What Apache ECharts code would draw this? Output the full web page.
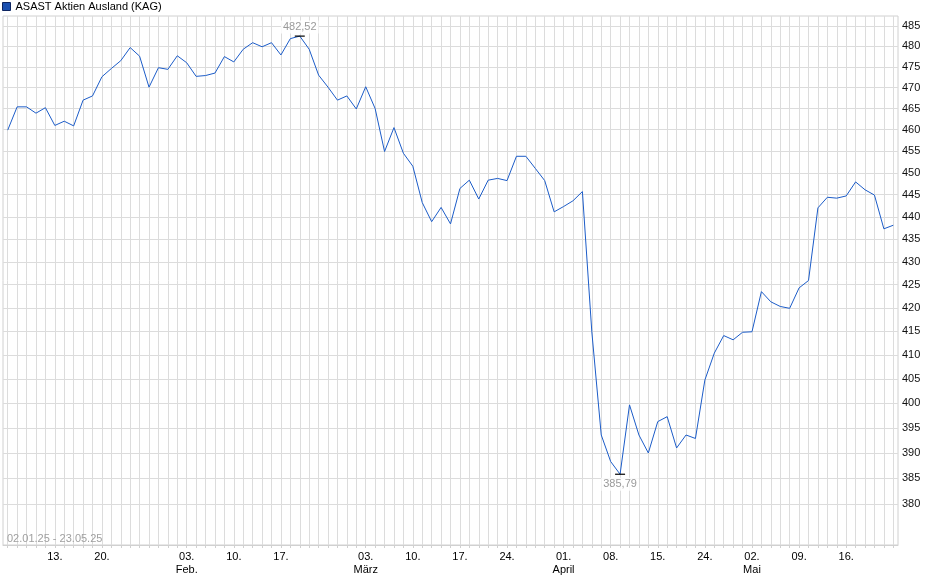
<!DOCTYPE html>
<html>
<head>
<meta charset="utf-8">
<title>ASAST Aktien Ausland (KAG)</title>
<script src="https://cdn.jsdelivr.net/npm/echarts@6.0.0/dist/echarts.min.js"></script>
<style>
	html, body { margin: 0; padding: 0; background: #fff; }
	#chart { width: 940px; height: 579px; }
</style>
</head>
<body>
<div id="chart"></div>
<script>
'use strict';

var seriesName = 'ASAST Aktien Ausland (KAG)';
var rangeText = '02.01.25 - 23.05.25';

// Handelstage (dd.mm.)
var dates = [
	'02.01.', '03.01.', '07.01.', '08.01.', '09.01.', '13.01.', '14.01.', '15.01.', '16.01.', '17.01.',
	'20.01.', '21.01.', '22.01.', '23.01.', '24.01.', '27.01.', '28.01.', '29.01.', '30.01.',
	'03.02.', '04.02.', '05.02.', '06.02.', '07.02.', '10.02.', '11.02.', '12.02.', '13.02.', '14.02.',
	'17.02.', '18.02.', '19.02.', '20.02.', '21.02.', '24.02.', '25.02.', '26.02.', '27.02.',
	'03.03.', '04.03.', '05.03.', '06.03.', '07.03.', '10.03.', '11.03.', '12.03.', '13.03.', '14.03.',
	'17.03.', '18.03.', '19.03.', '20.03.', '21.03.', '24.03.', '25.03.', '26.03.', '27.03.', '28.03.', '31.03.',
	'01.04.', '02.04.', '03.04.', '04.04.', '07.04.', '08.04.', '09.04.', '10.04.', '11.04.',
	'14.04.', '15.04.', '16.04.', '17.04.', '22.04.', '23.04.', '24.04.', '25.04.', '28.04.', '29.04.', '30.04.',
	'02.05.', '05.05.', '06.05.', '07.05.', '08.05.', '09.05.', '12.05.', '13.05.', '14.05.', '15.05.', '16.05.',
	'19.05.', '20.05.', '21.05.', '22.05.', '23.05.'
];

var values = [
	459.9, 465.4, 465.4, 463.9, 465.2, 461.0, 462.0, 460.9, 467.0, 468.0,
	472.6, 474.6, 476.5, 479.7, 477.6, 470.1, 474.8, 474.4, 477.7,
	476.0, 472.7, 472.9, 473.5, 477.5, 476.2, 479.3, 480.9, 479.9, 480.9,
	477.9, 481.9, 482.52, 479.3, 473.0, 470.1, 467.0, 468.0, 464.9,
	470.2, 465.0, 454.9, 460.5, 454.5, 451.5, 443.2, 438.9, 442.1, 438.4,
	446.4, 448.3, 444.0, 448.3, 448.7, 448.2, 453.8, 453.8, 451.0, 448.2, 441.1,
	442.3, 443.6, 445.7, 414.9, 393.6, 388.3, 385.79, 399.7, 393.6,
	390.0, 396.3, 397.3, 391.0, 393.6, 392.9, 404.8, 410.4, 414.1, 413.2, 414.8,
	414.9, 423.5, 421.3, 420.3, 419.9, 424.3, 425.9, 442.0, 444.4, 444.2, 444.7,
	447.9, 446.1, 444.9, 437.3, 438.1
];

// beschriftete Tage auf der x-Achse
var xTickDates = [
	'13.01.', '20.01.', '03.02.', '10.02.', '17.02.', '03.03.', '10.03.', '17.03.', '24.03.',
	'01.04.', '08.04.', '15.04.', '24.04.', '02.05.', '09.05.', '16.05.'
];
var monthNames = ['Jan.', 'Feb.', 'März', 'April', 'Mai'];

// y-Achse (logarithmisch)
var yTicks = [380, 385, 390, 395, 400, 405, 410, 415, 420, 425, 430, 435, 440, 445, 450, 455, 460, 465, 470, 475, 480, 485];
var yMin = 372.1, yMax = 487.5;

var gridColor = '#dcdcdc',
	lineColor = '#1c5cc8',
	font = "'Liberation Sans', Arial, sans-serif";

function fmtDe(v) {
	return v.toFixed(2).replace('.', ',');
}

function xLabel(value) {
	var idx = dates.indexOf(value),
		day = value.substr(0, 3),
		month = parseInt(value.substr(3, 2), 10);
	// erster Handelstag im Monat bekommt den Monatsnamen
	if (idx > 0 && dates[idx - 1].substr(3, 2) !== value.substr(3, 2)) {
		return day + '\n' + monthNames[month - 1];
	}
	return day;
}

var chart = echarts.init(document.getElementById('chart'), null, { renderer: 'canvas' });

chart.setOption({
	animation: false,
	textStyle: { fontFamily: font },
	title: {
		text: rangeText,
		left: 7,
		top: 533,
		padding: 0,
		textStyle: { fontSize: 11, fontWeight: 'normal', color: '#a0a0a0', fontFamily: font }
	},
	legend: {
		data: [seriesName],
		left: 2,
		top: 1,
		padding: 0,
		icon: 'rect',
		itemWidth: 8,
		itemHeight: 8,
		itemGap: 4,
		itemStyle: { color: '#1a50b0', borderColor: '#0c2460', borderWidth: 1 },
		textStyle: { fontSize: 11, color: '#000', fontFamily: font }
	},
	grid: {
		left: 3,
		right: 42,
		top: 16,
		bottom: 34,
		show: true,
		borderColor: '#d0d0d0',
		borderWidth: 1,
		containLabel: false
	},
	xAxis: {
		type: 'category',
		data: dates,
		boundaryGap: true,
		axisLine: { show: true, lineStyle: { color: '#d0d0d0' } },
		axisTick: { show: true, interval: 0, alignWithLabel: true, length: 3, lineStyle: { color: '#d0d0d0' } },
		splitLine: { show: true, interval: 0, alignWithLabel: true, lineStyle: { color: gridColor, width: 1 } },
		axisLabel: {
			interval: function(index, value) {
				return xTickDates.indexOf(value) > -1;
			},
			formatter: xLabel,
			fontSize: 11,
			lineHeight: 13,
			color: '#000',
			margin: 5,
			fontFamily: font
		}
	},
	yAxis: {
		type: 'log',
		logBase: 10,
		position: 'right',
		min: yMin,
		max: yMax,
		axisLine: { show: false },
		axisTick: { show: false, customValues: yTicks },
		splitLine: { show: true, lineStyle: { color: gridColor, width: 1 } },
		axisLabel: {
			customValues: yTicks,
			fontSize: 11,
			color: '#111',
			margin: 4,
			fontFamily: font,
			formatter: function(v) { return Math.round(v); }
		}
	},
	series: [{
		name: seriesName,
		type: 'line',
		data: values,
		symbol: 'none',
		z: 3,
		lineStyle: { color: lineColor, width: 1 },
		itemStyle: { color: lineColor },
		markPoint: {
			symbol: 'rect',
			symbolSize: [10, 1.2],
			itemStyle: { color: '#000' },
			label: {
				show: true,
				color: '#9a9a9a',
				fontSize: 11,
				fontFamily: font,
				backgroundColor: 'rgba(255,255,255,0.85)',
				padding: [1, 2],
				formatter: function(p) { return fmtDe(p.value); }
			},
			data: [
				{ type: 'max', label: { position: 'top', distance: 2 } },
				{ type: 'min', label: { position: 'bottom', distance: 3 } }
			]
		}
	}]
});
</script>
</body>
</html>
